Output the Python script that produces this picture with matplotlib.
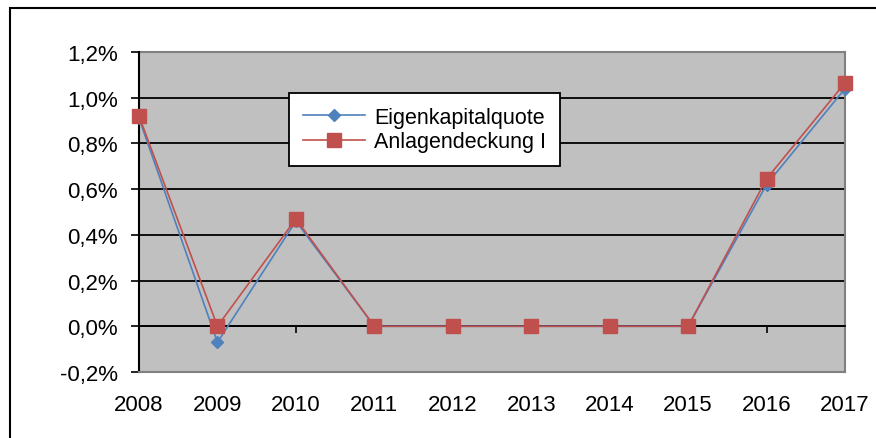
import matplotlib
matplotlib.use('Agg')
import matplotlib.pyplot as plt
from matplotlib.patches import Rectangle

plt.rcParams['font.family'] = ['Liberation Sans', 'DejaVu Sans']

years = ['2008', '2009', '2010', '2011', '2012', '2013', '2014', '2015', '2016', '2017']
eigenkapitalquote = [0.91, -0.07, 0.46, 0.0, 0.0, 0.0, 0.0, 0.0, 0.62, 1.04]
anlagendeckung = [0.92, 0.0, 0.47, 0.0, 0.0, 0.0, 0.0, 0.0, 0.645, 1.065]
yticks = [-0.2, 0.0, 0.2, 0.4, 0.6, 0.8, 1.0, 1.2]

fig = plt.figure(figsize=(8.76, 4.39), dpi=100)
# outer chart frame (right/bottom edges cut off in the original)
fig.patches.append(Rectangle((9.5 / 876, -0.2), 1.2, 1.2 - 8.5 / 439,
                             transform=fig.transFigure, fill=False,
                             edgecolor='black', linewidth=1.5, zorder=0))

ax = fig.add_axes([139 / 876, 1 - 373 / 439, 706 / 876, 320 / 439])
ax.set_facecolor('#C0C0C0')
x = list(range(len(years)))

ax.plot(x, eigenkapitalquote, color='#4F81BD', lw=1.2, marker='D', markersize=6,
        label='Eigenkapitalquote', zorder=3, clip_on=False)
ax.plot(x, anlagendeckung, color='#C0504D', lw=1.2, marker='s', markersize=9.5,
        label='Anlagendeckung I', zorder=4, clip_on=False)

ax.set_xlim(0, len(years) - 1)
ax.set_ylim(-0.2, 1.2)
ax.set_yticks(yticks)
ax.set_yticklabels([('%.1f%%' % v).replace('.', ',') for v in yticks])
ax.yaxis.grid(True, color='black', lw=1.3)
ax.set_axisbelow(True)

ax.set_xticks(x)
ax.set_xticklabels(years)
# tick marks sit on the 0% line, labels below the plot area
ax.spines['top'].set_position(('data', 0))
ax.spines['top'].set_color('black')
ax.spines['top'].set_linewidth(1.3)
ax.tick_params(axis='x', top=True, bottom=False, labeltop=False, labelbottom=True,
               direction='in', length=5, width=1.2, pad=16, labelsize=16)
ax.tick_params(axis='y', direction='out', length=6, width=1.2, pad=9, labelsize=16)

for s in ['right', 'bottom']:
    ax.spines[s].set_color('#808080')
    ax.spines[s].set_linewidth(1.5)
ax.spines['left'].set_color('black')
ax.spines['left'].set_linewidth(1.5)
ax.add_patch(Rectangle((0, 1), 1, 0, transform=ax.transAxes, fill=False,
                       edgecolor='#808080', lw=1.5, clip_on=False))

leg = ax.legend(loc='upper left', bbox_to_anchor=((289 - 139) / 706, (373 - 94) / 320),
                fontsize=15.5, frameon=True, fancybox=False, handlelength=2.9,
                borderpad=0.65, labelspacing=0.15, handletextpad=0.4, borderaxespad=0)
leg.get_frame().set_edgecolor('black')
leg.get_frame().set_linewidth(1.3)
leg.get_frame().set_alpha(1)

fig.savefig('out.png', dpi=100)
